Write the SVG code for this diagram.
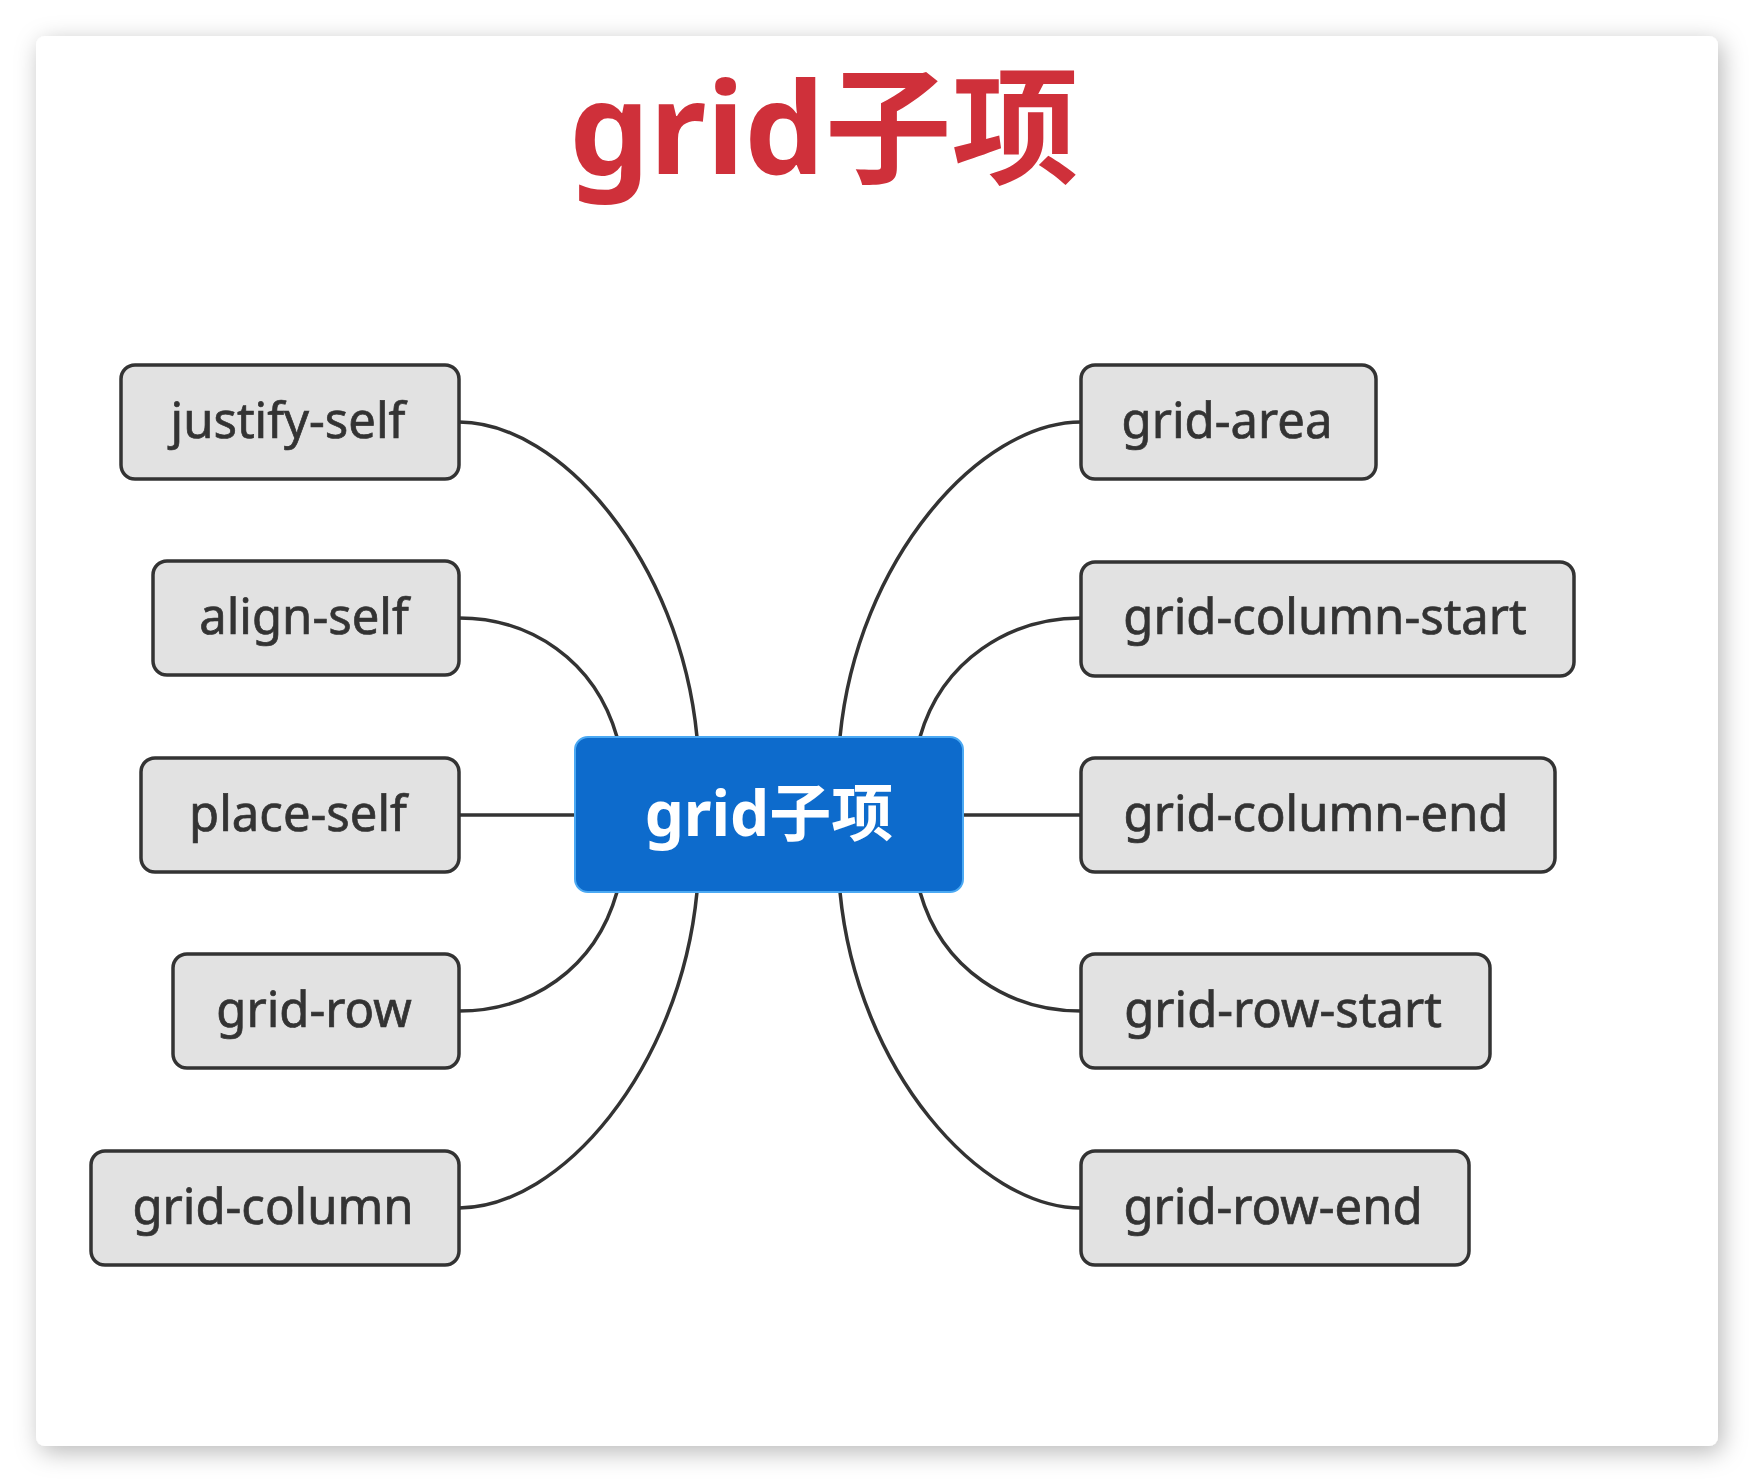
<svg xmlns="http://www.w3.org/2000/svg" width="1754" height="1482" viewBox="0 0 1754 1482">
  <defs>
    <filter id="shadow" x="-5%" y="-5%" width="110%" height="110%">
      <feDropShadow dx="4" dy="6" stdDeviation="12" flood-color="#000" flood-opacity="0.28"/>
    </filter>
    <style>
      .node rect { fill: #e2e2e2; stroke: #333; stroke-width: 3.5; }
      .node text { font-family: "Noto Sans", "Open Sans", "Noto Sans CJK SC", sans-serif; font-size: 49px; fill: #333; stroke: #333; stroke-width: 0.7; text-anchor: middle; }
      .conn path { fill: none; stroke: #333; stroke-width: 3.5; }
      .title { font-family: "Noto Sans", "Noto Sans CJK SC", sans-serif; font-weight: bold; font-size: 127px; fill: #cf303a; text-anchor: middle; }
      .center rect { fill: #0d6bcc; stroke: #4ba9f3; stroke-width: 2; }
      .center text { font-family: "Noto Sans", "Noto Sans CJK SC", sans-serif; font-weight: bold; font-size: 62px; fill: #ffffff; text-anchor: middle; }
    </style>
  </defs>
  <rect width="1754" height="1482" fill="#ffffff"/>
  <rect x="36" y="36" width="1682" height="1410" rx="9" fill="#ffffff" filter="url(#shadow)"/>

  <text class="title" x="824" y="174">grid子项</text>

  <g id="connectors" class="conn">
    <path d="M459,422 C560,422 680,560 697,737"/>
    <path d="M459,618 C530,618 595,660 617,737"/>
    <path d="M459,815 H575"/>
    <path d="M459,1011 C530,1011 595,970 617,892"/>
    <path d="M459,1208 C560,1208 680,1070 697,892"/>
    <path d="M1081,422 C980,422 857,560 840,737"/>
    <path d="M1081,618 C1010,618 942,660 920,737"/>
    <path d="M963,815 H1081"/>
    <path d="M1081,1011 C1010,1011 942,970 920,892"/>
    <path d="M1081,1208 C980,1208 857,1070 840,892"/>
  </g>

  <g id="center" class="center">
    <rect x="575" y="737" width="388" height="155" rx="13"/>
    <text x="769" y="836">grid子项</text>
  </g>

  <g id="justify-self" class="node">
    <rect x="121" y="365" width="338" height="114" rx="14"/>
    <text x="288" y="438">justify-self</text>
  </g>
  <g id="align-self" class="node">
    <rect x="153" y="561" width="306" height="114" rx="14"/>
    <text x="304" y="634">align-self</text>
  </g>
  <g id="place-self" class="node">
    <rect x="141" y="758" width="318" height="114" rx="14"/>
    <text x="298" y="831">place-self</text>
  </g>
  <g id="grid-row" class="node">
    <rect x="173" y="954" width="286" height="114" rx="14"/>
    <text x="314" y="1027">grid-row</text>
  </g>
  <g id="grid-column" class="node">
    <rect x="91" y="1151" width="368" height="114" rx="14"/>
    <text x="273" y="1224">grid-column</text>
  </g>

  <g id="grid-area" class="node">
    <rect x="1081" y="365" width="295" height="114" rx="14"/>
    <text x="1227" y="438">grid-area</text>
  </g>
  <g id="grid-column-start" class="node">
    <rect x="1081" y="562" width="493" height="114" rx="14"/>
    <text x="1325" y="634">grid-column-start</text>
  </g>
  <g id="grid-column-end" class="node">
    <rect x="1081" y="758" width="474" height="114" rx="14"/>
    <text x="1316" y="831">grid-column-end</text>
  </g>
  <g id="grid-row-start" class="node">
    <rect x="1081" y="954" width="409" height="114" rx="14"/>
    <text x="1283" y="1027">grid-row-start</text>
  </g>
  <g id="grid-row-end" class="node">
    <rect x="1081" y="1151" width="388" height="114" rx="14"/>
    <text x="1273" y="1224">grid-row-end</text>
  </g>
</svg>
